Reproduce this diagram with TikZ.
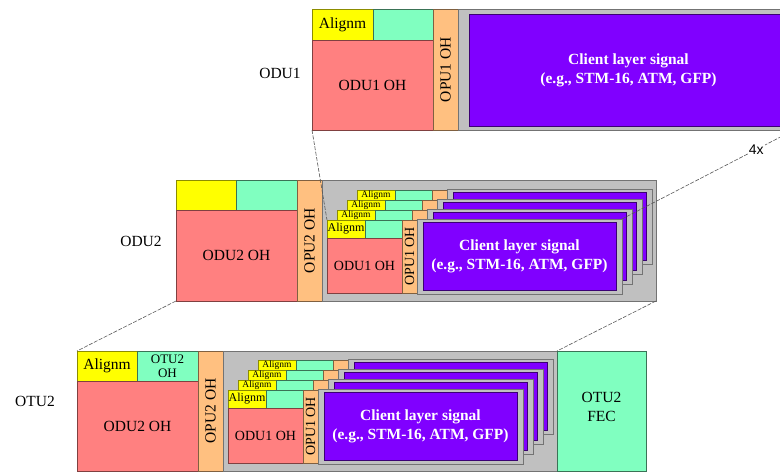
\documentclass[tikz,border=0pt]{standalone}
\usepackage{fontspec}
\setmainfont{Liberation Serif}
\newfontfamily\numsans{Liberation Sans}
\usepackage{tikz}
\usetikzlibrary{positioning}
\usepackage{xcolor}

\definecolor{algY}{HTML}{FFFF00}
\definecolor{tcmG}{HTML}{80FFC0}
\definecolor{ohP}{HTML}{FF8080}
\definecolor{opuO}{HTML}{FFC080}
\definecolor{plG}{HTML}{C0C0C0}
\definecolor{clV}{HTML}{8000FF}

\newcommand{\fsz}[2]{\fontsize{#1}{#2}\selectfont}

\tikzset{
  box/.style  = {draw, anchor=north west, inner sep=0pt, outer sep=0pt, line width=0.7pt},
  wh/.style 2 args = {minimum width=#1pt, minimum height=#2pt},
  alg/.style  = {box, fill=algY, draw=algY!55!black},
  tcm/.style  = {box, fill=tcmG, draw=tcmG!45!black},
  oh/.style   = {box, fill=ohP, draw=ohP!50!black},
  opu/.style  = {box, fill=opuO, draw=opuO!50!black},
  pld/.style  = {box, fill=plG, draw=black!55},
  cli/.style  = {box, fill=clV, draw=clV!45!black, text=white, align=center,
                 font=\bfseries\fsz{15.5}{19}},
  txtL/.style = {font=\fsz{15.5}{19}, align=center},
  vlab/.style 2 args = {label={[rotate=90, inner sep=0pt, font=\fsz{#1}{#1}]center:#2}},
  zl/.style   = {draw=black!65, line width=0.6pt, dash pattern=on 4pt off 1.5pt},
  % ODU1 carried inside a higher order payload: front copy, with its texts
  odufront/.pic = {
    \node[alg, wh={38}{18}, font=\fsz{12}{12}] (-alg) at (0,0) {Alignm};
    \node[tcm, wh={37}{18}] (-tcm) at (38,0) {};
    \node[oh, wh={75}{55}, font=\fsz{14}{14}] (-oh) at (0,18) {ODU1 OH};
    \node[opu, wh={15}{73}, vlab={14}{OPU1 OH}] (-opu) at (75,0) {};
    \node[pld, wh={205}{75}] (-pld) at (90,-1) {};
    \node[cli, wh={193}{68}] (-cli) at (96,2) {Client layer signal\\(e.g., STM-16, ATM, GFP)};
  },
  % the copies behind it
  oduback/.pic = {
    \node[alg, wh={38}{18}, label={[anchor=north, inner sep=0.5pt, font=\fsz{9.5}{9.5}]north:Alignm}] (-alg) at (0,0) {};
    \node[tcm, wh={37}{18}] (-tcm) at (38,0) {};
    \node[oh, wh={75}{55}] (-oh) at (0,18) {};
    \node[opu, wh={15}{73}] (-opu) at (75,0) {};
    \node[pld, wh={205}{75}] (-pld) at (90,-1) {};
    \node[cli, wh={193}{68}] (-cli) at (96,2) {};
  },
}

\begin{document}
\begin{tikzpicture}[x=1pt, y=-1pt]
\useasboundingbox (0,0) rectangle (780,472);
\clip (0,0) rectangle (780,472);

% ---------------- ODU1 ---------------------------------------------------
\node[txtL] (lo1) at (280,73) {ODU1};
\node[alg, wh={61}{31}, txtL] (o1alg) at (312,9) {Alignm};
\node[tcm, wh={60}{31}] (o1tcm) at (373,9) {};
\node[oh, wh={121}{90}, txtL] (o1oh) at (312,40) {ODU1 OH};
\node[opu, wh={25}{121}, vlab={15.5}{OPU1 OH}] (o1opu) at (433,9) {};
\node[pld, wh={336}{121}] (o1pld) at (458,9) {};
\node[cli, wh={319}{112}] (o1cli) at (469,14) {Client layer signal\\(e.g., STM-16, ATM, GFP)};

% ---------------- ODU2 ---------------------------------------------------
\node[txtL] (lo2) at (141,241) {ODU2};
\node[alg, wh={60}{30}] (o2alg) at (176,180) {};
\node[tcm, wh={61}{30}] (o2tcm) at (236,180) {};
\node[oh, wh={121}{91}, txtL] (o2oh) at (176,210) {ODU2 OH};
\node[opu, wh={25}{121}, vlab={15.5}{OPU2 OH}] (o2opu) at (297,180) {};
\node[pld, wh={334}{121}] (o2pld) at (322,180) {};
\foreach \k in {3,2,1}
  \pic (odu2b\k) at ({327+10*\k},{220-10*\k}) {oduback};
\pic (odu2f) at (327,220) {odufront};

% ---------------- OTU2 ---------------------------------------------------
\node[txtL] (lt2) at (35,401) {OTU2};
\node[alg, wh={60}{30}, txtL] (t2alg) at (77,351) {Alignm};
\node[tcm, wh={61}{30}, font=\fsz{13}{14}, align=center] (t2oh) at (137,351) {OTU2\\OH};
\node[oh, wh={121}{90}, txtL] (t2odu) at (77,381) {ODU2 OH};
\node[opu, wh={25}{120}, vlab={15.5}{OPU2 OH}] (t2opu) at (198,351) {};
\node[pld, wh={334}{120}] (t2pld) at (223,351) {};
\node[tcm, wh={89}{120}, txtL, text depth=9pt] (t2fec) at (557,351) {OTU2\\FEC};
\foreach \k in {3,2,1}
  \pic (otu2b\k) at ({228+10*\k},{390-10*\k}) {oduback};
\pic (otu2f) at (228,390) {odufront};

% ---------------- mapping lines ------------------------------------------
\draw[zl] (o1oh.south west) -- (odu2f-alg.north west);
\draw[zl] (odu2f-pld.north east) -- node[pos=.78, fill=white, inner sep=1pt,
          font=\numsans\fsz{14}{14}] (n4x) {4x} (o1pld.south east);
\draw[zl] (o2oh.south west) -- (t2alg.north west);
\draw[zl] (o2pld.south east) -- (t2pld.north east);

\end{tikzpicture}
\end{document}
